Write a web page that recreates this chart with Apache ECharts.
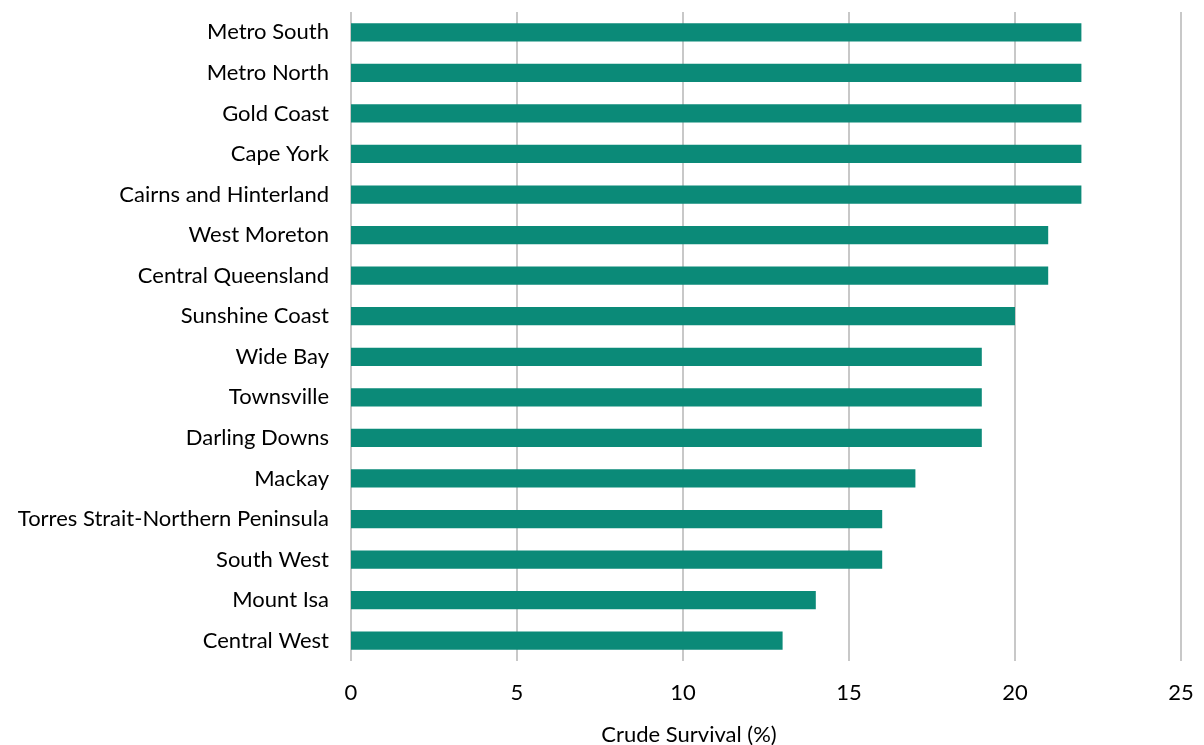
<!DOCTYPE html>
<html>
<head>
<meta charset="utf-8">
<script src="https://cdn.jsdelivr.net/npm/echarts@6/dist/echarts.min.js"></script>
<style>
  html, body { margin: 0; padding: 0; background: #fff; }
  #chart { width: 1204px; height: 745px; }
</style>
</head>
<body>
<div id="chart"></div>
<script>
// regions listed bottom to top (category axis starts at bottom)
const regions = [
  'Central West', 'Mount Isa', 'South West', 'Torres Strait-Northern Peninsula',
  'Mackay', 'Darling Downs', 'Townsville', 'Wide Bay', 'Sunshine Coast',
  'Central Queensland', 'West Moreton', 'Cairns and Hinterland', 'Cape York',
  'Gold Coast', 'Metro North', 'Metro South'
]
const survival = [13, 14, 16, 16, 17, 19, 19, 19, 20, 21, 21, 22, 22, 22, 22, 22]
const xTicks = [0, 5, 10, 15, 20, 25]

const font = 'Lato, "Open Sans", sans-serif'

let myChart = echarts.init(document.getElementById('chart'))
const option = {
  animation: false,
  title: {
    text: 'Crude Survival (%)',
    left: 684,
    top: 719,
    textAlign: 'center',
    textStyle: { fontFamily: font, fontSize: 22, fontWeight: 'normal', color: '#000' }
  },
  grid: { left: 351, right: 23, top: 12, height: 649 },
  xAxis: {
    type: 'value',
    min: xTicks[0],
    max: xTicks[xTicks.length - 1],
    interval: 5,
    axisLine: { show: false },
    axisTick: { show: false },
    splitLine: { lineStyle: { color: '#c8c8c8', width: 2 } },
    axisLabel: { fontFamily: font, fontSize: 22, color: '#000', margin: 21 }
  },
  yAxis: {
    type: 'category',
    data: regions,
    axisLine: { show: false },
    axisTick: { show: false },
    axisLabel: { fontFamily: font, fontSize: 22, color: '#000', margin: 22 }
  },
  series: [{
    type: 'bar',
    data: survival,
    barWidth: '45%',
    itemStyle: { color: '#0b8a78' }
  }]
}
myChart.setOption(option)
</script>
</body>
</html>
